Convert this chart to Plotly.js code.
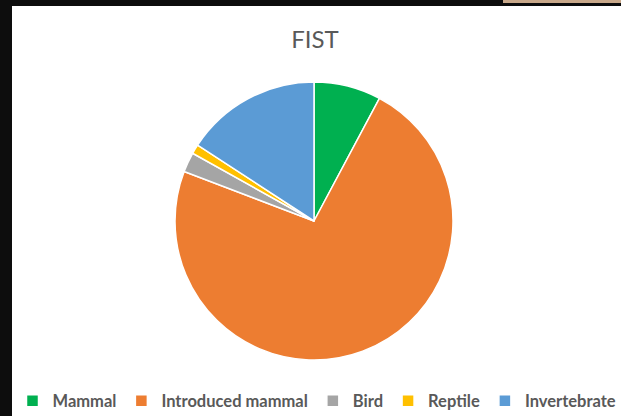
<!DOCTYPE html>
<html>
<head>
<meta charset="utf-8">
<script src="https://cdn.plot.ly/plotly-3.0.1.min.js"></script>
<style>
  html, body { margin: 0; padding: 0; background: #0d0d0d; width: 621px; height: 416px; overflow: hidden; }
  #frame { position: absolute; left: 12px; top: 6px; width: 609px; height: 410px; background: #ffffff; }
  #chart { width: 609px; height: 410px; }
  #tan { position: absolute; left: 503px; top: 0px; width: 118px; height: 3px; background: #c8a88a; }
</style>
</head>
<body>
<div id="tan"></div>
<div id="frame"><div id="chart"></div></div>
<script>
const categories = ["Mammal", "Introduced mammal", "Bird", "Reptile", "Invertebrate"];
const values = [7.8, 73.0, 2.3, 1.1, 15.8];
const colors = ["#00B050", "#ED7D31", "#A5A5A5", "#FFC000", "#5B9BD5"];
const chartTitle = "FIST";

const W = 609, H = 410;
const cx = 302, cy = 215, r = 139;

const data = [{
  type: "pie",
  labels: categories,
  values: values,
  sort: false,
  direction: "clockwise",
  rotation: 0,
  textinfo: "none",
  hoverinfo: "label+percent",
  marker: { colors: colors, line: { color: "#ffffff", width: 1.5 } },
  domain: { x: [(cx - r) / W, (cx + r) / W], y: [1 - (cy + r) / H, 1 - (cy - r) / H] }
}];

const layout = {
  width: W, height: H,
  margin: { l: 0, r: 0, t: 0, b: 0, autoexpand: false },
  paper_bgcolor: "#ffffff",
  title: {
    text: chartTitle,
    font: { family: "Lato, 'Open Sans', sans-serif", size: 24, color: "#595959" },
    xref: "paper", x: 303 / W, xanchor: "center",
    yref: "container", y: 1 - 34 / H, yanchor: "middle"
  },
  showlegend: true,
  legend: {
    orientation: "h",
    xref: "container", yref: "container",
    x: 305 / W, xanchor: "center",
    y: 1 - 395 / H, yanchor: "middle",
    font: { family: "Lato, 'Open Sans', sans-serif", size: 16.5, color: "#595959", weight: "bold" },
    itemwidth: 30,
    traceorder: "normal"
  }
};

Plotly.newPlot("chart", data, layout, { displayModeBar: false, staticPlot: true });
</script>
</body>
</html>
